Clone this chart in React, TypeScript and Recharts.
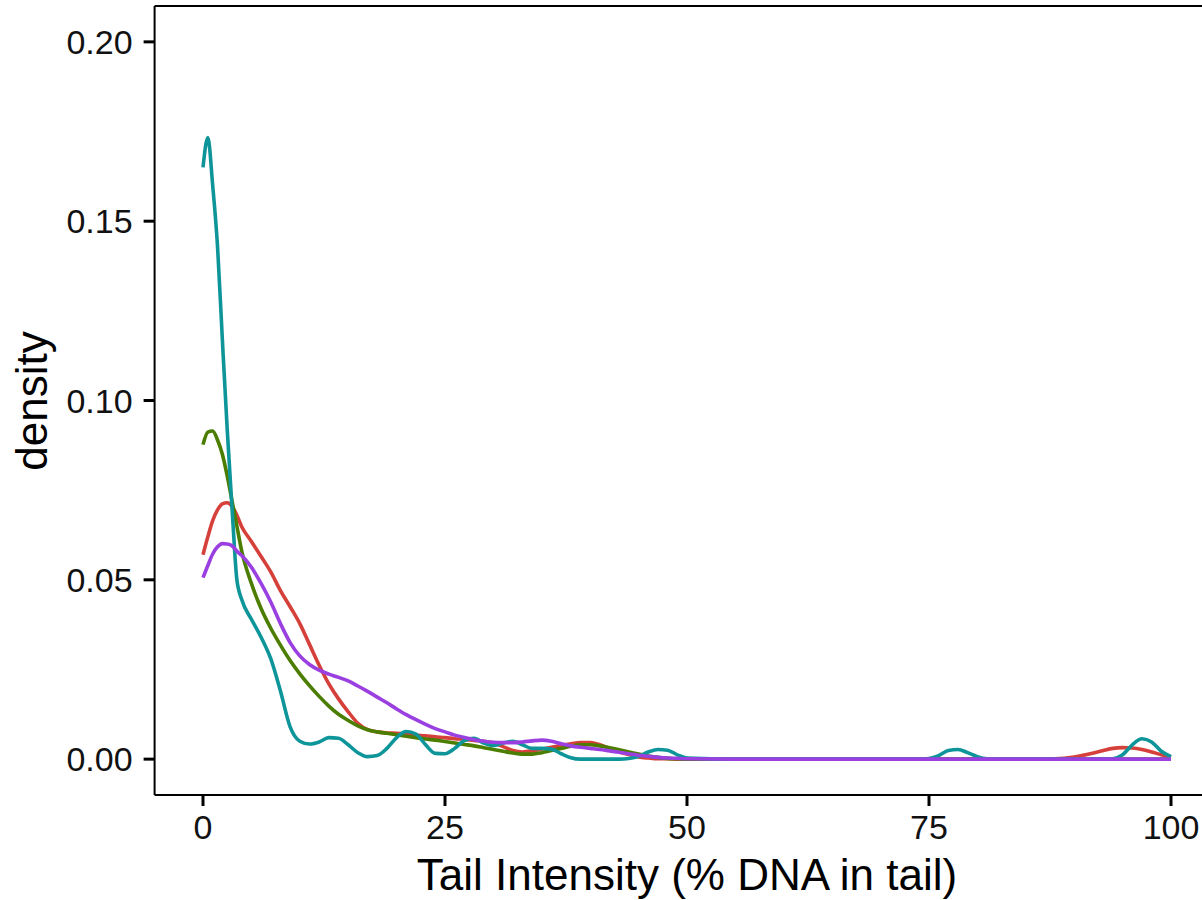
import { Label, Line, LineChart, ReferenceLine, XAxis, YAxis } from 'recharts';

const xs = [
  0, 0.5, 1, 1.5, 2, 2.5, 3, 3.5, 4, 5, 6, 7, 8, 9, 10, 11, 12, 13, 14, 15, 16, 17, 18, 19, 20,
  21, 22, 23, 24, 25, 26, 27, 28, 29, 30, 31, 32, 33, 34, 35, 36, 37, 38, 39, 40, 41, 42, 43, 44,
  45, 46, 47, 48, 49, 50, 55, 60, 65, 70, 74, 75, 76, 77, 78, 79, 80, 81, 82, 85, 88, 90, 92, 93,
  94, 95, 96, 97, 98, 99, 100,
];

const red = [
  0.057, 0.062, 0.0665, 0.0695, 0.0712, 0.0715, 0.0705, 0.068, 0.0648, 0.0607, 0.0565, 0.0522,
  0.047, 0.0425, 0.0378, 0.032, 0.0262, 0.021, 0.0168, 0.0132, 0.01, 0.0082, 0.0076, 0.0073,
  0.0072, 0.007, 0.0067, 0.0065, 0.0062, 0.006, 0.0057, 0.0055, 0.0052, 0.005, 0.0045, 0.0035,
  0.0024, 0.002, 0.0023, 0.0028, 0.0033, 0.0038, 0.0043, 0.0046, 0.0046, 0.004, 0.003, 0.002,
  0.0013, 0.0006, 0.0003, 0.0001, 0.0001, 0, 0, 0, 0, 0, 0, 0, 0, 0, 0, 0, 0, 0, 0, 0, 0, 0.0001,
  0.0006, 0.0017, 0.0024, 0.003, 0.0032, 0.0031, 0.0027, 0.002, 0.0012, 0.0005,
];

const green = [
  0.0877, 0.0912, 0.0915, 0.089, 0.085, 0.079, 0.072, 0.065, 0.058, 0.049, 0.042, 0.0365, 0.0318,
  0.0275, 0.0238, 0.0205, 0.0175, 0.0148, 0.0125, 0.0108, 0.0093, 0.0082, 0.0076, 0.0072, 0.0068,
  0.0064, 0.006, 0.0056, 0.0053, 0.0049, 0.0045, 0.0041, 0.0037, 0.0032, 0.0027, 0.0022, 0.0017,
  0.0014, 0.0014, 0.0018, 0.0024, 0.003, 0.0036, 0.004, 0.004, 0.0037, 0.0032, 0.0026, 0.002,
  0.0014, 0.0009, 0.0005, 0.0002, 0.0001, 0, 0, 0, 0, 0, 0, 0, 0, 0, 0, 0, 0, 0, 0, 0, 0, 0, 0,
  0, 0, 0, 0, 0, 0, 0, 0,
];

const teal = [
  0.165, 0.1733, 0.16, 0.143, 0.117, 0.092, 0.07, 0.05, 0.0445, 0.039, 0.034, 0.028, 0.019, 0.009,
  0.005, 0.0042, 0.0048, 0.006, 0.0058, 0.004, 0.0018, 0.0007, 0.001, 0.003, 0.006, 0.0077, 0.007,
  0.004, 0.0016, 0.0015, 0.003, 0.0052, 0.0058, 0.0045, 0.0038, 0.0045, 0.005, 0.004, 0.003, 0.003,
  0.0028, 0.0015, 0.0004, 0, 0, 0, 0, 0, 0.0002, 0.0008, 0.002, 0.0027, 0.0025, 0.0012, 0.0003, 0,
  0, 0, 0, 0, 0.0002, 0.001, 0.0024, 0.0027, 0.0018, 0.0007, 0.0001, 0, 0, 0, 0, 0, 0, 0.0001,
  0.0012, 0.004, 0.0057, 0.0048, 0.0022, 0.0007,
];

const purple = [
  0.0506, 0.054, 0.0572, 0.0592, 0.0601, 0.06, 0.0595, 0.058, 0.0568, 0.0535, 0.049, 0.0438,
  0.0378, 0.0325, 0.0288, 0.0264, 0.0248, 0.0237, 0.0228, 0.0218, 0.0204, 0.0189, 0.0173, 0.0157,
  0.014, 0.0124, 0.011, 0.0097, 0.0085, 0.0076, 0.0067, 0.006, 0.0054, 0.005, 0.0047, 0.0046,
  0.0046, 0.0048, 0.0051, 0.0053, 0.005, 0.0043, 0.0037, 0.0033, 0.003, 0.0027, 0.0023, 0.0019,
  0.0015, 0.0011, 0.0008, 0.0005, 0.0003, 0.0002, 0.0001, 0, 0, 0, 0, 0, 0, 0, 0, 0, 0, 0, 0, 0,
  0, 0, 0, 0, 0, 0, 0, 0, 0, 0, 0, 0,
];

const xTicks = [0, 25, 50, 75, 100];
const yTicks = [0, 0.05, 0.1, 0.15, 0.2];

const data = xs.map((x, i) => ({
  x,
  red: red[i],
  green: green[i],
  teal: teal[i],
  purple: purple[i],
}));

const font = '"Liberation Sans", Arial, sans-serif';
const tickStyle = { fill: '#111', fontSize: 34, fontFamily: font };

function YTitle() {
  return (
    <text
      transform="translate(47,401) rotate(-90)"
      textAnchor="middle"
      fill="#000"
      fontSize={44}
      fontFamily={font}
    >
      density
    </text>
  );
}

export default function App() {
  return (
    <div
      style={{
        position: 'fixed',
        left: 0,
        top: 0,
        width: 1202,
        height: 900,
        overflow: 'hidden',
        background: '#fff',
      }}
    >
      <LineChart
        width={1240}
        height={900}
        data={data}
        margin={{ top: 6, right: 20.6, left: 0, bottom: 0 }}
      >
        <XAxis
          dataKey="x"
          type="number"
          domain={[-5, 105]}
          ticks={xTicks}
          height={105}
          axisLine={{ stroke: '#000', strokeWidth: 2 }}
          tickLine={{ stroke: '#000', strokeWidth: 3 }}
          tickSize={11}
          tickMargin={9}
          tick={tickStyle}
        >
          <Label
            value="Tail Intensity (% DNA in tail)"
            position="insideBottom"
            offset={10}
            style={{ fill: '#000', fontSize: 44, fontFamily: font }}
          />
        </XAxis>
        <YAxis
          type="number"
          domain={[-0.01, 0.21]}
          ticks={yTicks}
          width={154.6}
          allowDataOverflow
          axisLine={{ stroke: '#000', strokeWidth: 2 }}
          tickLine={{ stroke: '#000', strokeWidth: 3 }}
          tickSize={11}
          tickMargin={11}
          tick={tickStyle}
          tickFormatter={(v: number) => v.toFixed(2)}
          label={<YTitle />}
        />
        <ReferenceLine y={0.21} stroke="#000" strokeWidth={2} />
        <Line type="monotone" dataKey="red" stroke="#D6403A" strokeWidth={3.6} dot={false} isAnimationActive={false} />
        <Line type="monotone" dataKey="green" stroke="#4B7D00" strokeWidth={3.6} dot={false} isAnimationActive={false} />
        <Line type="monotone" dataKey="teal" stroke="#0E9599" strokeWidth={3.6} dot={false} isAnimationActive={false} />
        <Line type="monotone" dataKey="purple" stroke="#9B40E0" strokeWidth={3.6} dot={false} isAnimationActive={false} />
      </LineChart>
    </div>
  );
}
